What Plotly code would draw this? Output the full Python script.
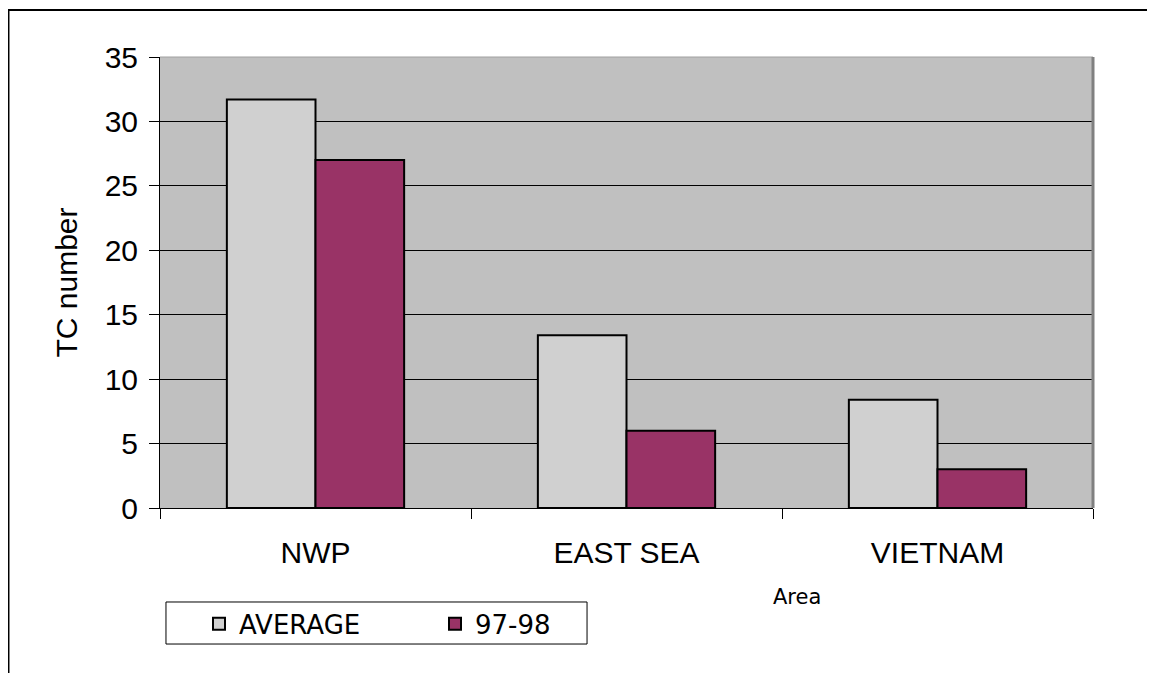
import plotly.graph_objects as go

# TC counts by area
areas = ["NWP", "EAST SEA", "VIETNAM"]
average = [31.7, 13.4, 8.4]
y9798 = [27, 6, 3]

fig = go.Figure()
fig.add_trace(go.Bar(x=areas, y=average, name="AVERAGE",
                     marker=dict(color="#D0D0D0", line=dict(color="black", width=2))))
fig.add_trace(go.Bar(x=areas, y=y9798, name="97-98",
                     marker=dict(color="#993366", line=dict(color="black", width=2))))

fig.update_layout(
    width=1155, height=673,
    margin=dict(l=152, r=70, t=49, b=173),
    paper_bgcolor="white",
    plot_bgcolor="#C0C0C0",
    barmode="group",
    bargap=0.43,
    bargroupgap=0,
    font=dict(family="Liberation Sans, Arial", size=30, color="black"),
    showlegend=True,
    legend=dict(
        orientation="h",
        x=0.0418, xanchor="left",
        y=-0.257, yanchor="middle",
        borderwidth=0,
        bgcolor="rgba(0,0,0,0)",
        font=dict(family="DejaVu Sans", size=26, color="black"),
        entrywidth=191,
        traceorder="normal",
    ),
    yaxis=dict(
        range=[0, 35], dtick=5,
        showgrid=True, gridcolor="black", gridwidth=1,
        ticks="outside", ticklen=10, tickcolor="black",
        ticklabelstandoff=5,
        showline=True, linecolor="black", linewidth=1,
        zeroline=False,
        tickfont=dict(family="Liberation Sans, Arial", size=30),
        title=dict(text="TC number", standoff=18,
                   font=dict(family="Liberation Sans, Arial", size=30)),
    ),
    xaxis=dict(
        showgrid=False,
        ticks="outside", ticklen=10, tickcolor="black",
        tickson="boundaries",
        ticklabelstandoff=18,
        showline=True, linecolor="black", linewidth=1,
        tickfont=dict(family="Liberation Sans, Arial", size=30),
    ),
    annotations=[
        dict(text="Area", xref="paper", yref="paper", x=0.683, y=-0.197,
             showarrow=False, xanchor="center", yanchor="middle",
             font=dict(family="DejaVu Sans", size=21, color="black")),
    ],
    shapes=[
        # outer chart border
        dict(type="rect", xref="paper", yref="paper", x0=-0.1624, y0=-0.5, x1=1.2, y1=1.104,
             line=dict(color="black", width=2), fillcolor="rgba(0,0,0,0)", layer="below"),
        # legend box
        dict(type="rect", xref="paper", yref="paper", x0=0.0064, y0=-0.3016, x1=0.4577, y1=-0.2084,
             line=dict(color="black", width=1), fillcolor="white", layer="below"),
        # plot-area frame: light top edge, dark right edge
        dict(type="line", xref="paper", yref="paper", x0=0, y0=1, x1=1, y1=1,
             line=dict(color="#A0A0A0", width=1)),
        dict(type="line", xref="paper", yref="paper", x0=1, y0=0, x1=1, y1=1,
             line=dict(color="#808080", width=3)),
    ],
)

fig.write_html("out.html")
